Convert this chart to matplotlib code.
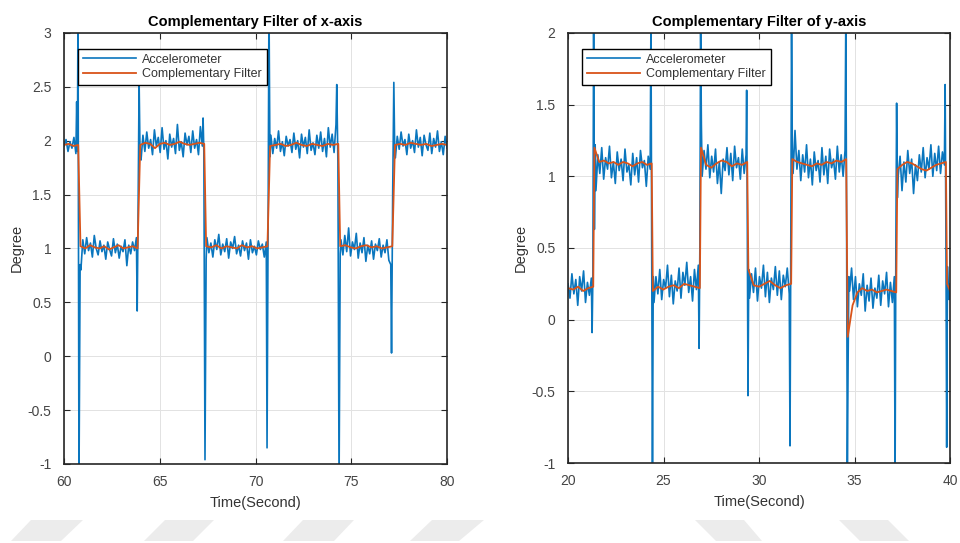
"""Complementary filter vs accelerometer, x- and y-axis."""

import numpy as np
import matplotlib
matplotlib.use("Agg")
import matplotlib.pyplot as plt
from matplotlib.patches import Polygon
from matplotlib.ticker import FuncFormatter

plt.rcParams['font.family'] = ['Liberation Sans', 'DejaVu Sans']
plt.rcParams['axes.unicode_minus'] = False

BLUE = "#0a76be"
ORANGE = "#D95319"
DARK = "#262626"

# ---------------- x-axis (60..80 s) ----------------
# accelerometer: plateaus (start, end, values) + transition spikes
xa_start = [60.00, 60.88, 64.02, 67.46, 70.80, 74.46, 77.30]
xa_end = [60.62, 63.78, 67.22, 70.56, 74.20, 77.06, 80.00]
xa_vals = [
    [1.95, 2.01, 1.90, 1.99, 1.93, 2.03, 1.88],
    [0.80, 1.08, 0.95, 1.10, 0.98, 1.05, 0.92, 1.12, 1.00, 0.94, 1.07, 0.97, 1.03, 0.90, 1.06,
     0.99, 0.93, 1.09, 0.96, 1.04, 0.91, 1.02, 0.97, 1.08, 0.84, 1.03, 0.95, 1.06, 0.98, 1.10],
    [1.82, 2.05, 1.90, 2.08, 1.93, 2.01, 1.87, 2.10, 1.95, 2.03, 1.89, 2.12, 1.92, 2.00, 1.83,
     2.06, 1.94, 2.02, 1.88, 2.15, 1.91, 1.99, 1.85, 2.07, 1.96, 2.04, 1.89, 2.09, 1.93, 2.01,
     1.87, 2.13, 1.95],
    [1.10, 0.96, 1.05, 0.92, 1.08, 0.99, 1.13, 0.94, 1.04, 0.97, 1.09, 0.91, 1.06, 1.00, 1.11,
     0.95, 1.03, 0.93, 1.07, 0.98, 1.05, 0.90, 1.08, 0.96, 1.02, 0.94, 1.07, 0.99, 1.04, 0.92,
     1.06],
    [2.05, 1.88, 2.02, 1.93, 2.09, 1.90, 1.99, 1.86, 2.04, 1.95, 2.01, 1.89, 2.07, 1.92, 2.00,
     1.84, 2.06, 1.94, 2.03, 1.88, 2.10, 1.91, 1.98, 1.87, 2.05, 1.93, 2.08, 1.90, 2.02, 1.85,
     2.12, 1.94, 2.06, 1.89, 2.15],
    [1.08, 0.94, 1.12, 0.97, 1.19, 0.93, 1.06, 0.99, 1.14, 0.91, 1.05, 0.96, 1.10, 0.88, 1.03,
     0.95, 1.07, 0.90, 1.04, 0.98, 1.09, 0.92, 1.03, 0.96, 1.08, 0.89, 0.85],
    [1.84, 2.04, 1.92, 2.08, 1.95, 2.01, 1.87, 2.06, 1.93, 2.00, 1.89, 2.10, 1.94, 2.03, 1.86,
     2.05, 1.96, 1.91, 2.07, 1.88, 2.02, 1.94, 2.09, 1.90, 1.99, 1.87, 2.04, 1.93],
]
xa_spike_t = [60.66, 60.70, 60.73, 60.78, 60.84, 63.82, 63.86, 63.92, 63.97,
              67.26, 67.30, 67.36, 67.42, 70.60, 70.66, 70.70, 70.75,
              74.24, 74.30, 74.36, 74.42, 77.10, 77.16, 77.22, 77.27]
xa_spike_y = [2.36, 1.90, 3.30, -1.20, 0.85, 0.42, 1.20, 2.55, 1.85,
              2.21, 1.90, -0.96, 0.90, -0.85, 1.40, 3.30, 1.85,
              2.52, 1.80, -1.20, 0.95, 0.03, 1.50, 2.54, 1.85]

# complementary filter
xf_start = [60.00, 60.86, 63.98, 67.42, 70.76, 74.42, 77.28]
xf_end = [60.74, 63.84, 67.32, 70.62, 74.32, 77.14, 80.00]
xf_vals = [
    [1.96, 1.97, 1.95, 1.96],
    [1.02, 1.00, 1.03, 1.01, 1.00, 1.02, 0.99, 1.01, 1.03, 1.00, 1.01, 1.02, 1.00],
    [1.96, 1.98, 1.97, 1.93, 1.97, 1.98, 1.96, 1.97, 1.99, 1.97, 1.96, 1.97, 1.98, 1.97],
    [1.02, 1.01, 1.03, 1.00, 1.02, 1.01, 1.00, 1.03, 1.01, 1.02, 1.00, 1.01, 1.02],
    [1.95, 1.96, 1.97, 1.95, 1.96, 1.98, 1.96, 1.95, 1.97, 1.96, 1.95, 1.97, 1.96, 1.97],
    [1.02, 1.03, 1.01, 1.00, 1.02, 1.03, 1.01, 1.02, 1.00, 1.01, 1.02],
    [1.96, 1.97, 1.96, 1.98, 1.97, 1.96, 1.97, 1.95, 1.96, 1.97, 1.96],
]

# ---------------- y-axis (20..40 s) ----------------
ya_start = [20.00, 21.46, 24.50, 27.02, 29.50, 31.78, 34.74, 37.28, 39.90]
ya_end = [21.22, 24.30, 26.82, 29.32, 31.58, 34.50, 37.08, 39.70, 40.00]
ya_vals = [
    [0.25, 0.15, 0.32, 0.18, 0.28, 0.10, 0.30, 0.20, 0.34, 0.12, 0.26, 0.17, 0.29],
    [0.90, 1.15, 1.02, 1.20, 0.98, 1.13, 1.05, 1.21, 0.99, 1.10, 0.95, 1.17, 1.04, 1.12, 0.97,
     1.19, 1.03, 1.08, 0.94, 1.16, 1.01, 1.13, 0.96, 1.18, 1.06, 1.11, 0.93, 1.14, 1.05],
    [0.12, 0.30, 0.18, 0.35, 0.14, 0.28, 0.22, 0.38, 0.16, 0.31, 0.11, 0.27, 0.20, 0.36, 0.15,
     0.33, 0.24, 0.40, 0.19, 0.30, 0.13, 0.35, 0.21, 0.38],
    [1.00, 1.18, 1.05, 1.22, 0.99, 1.14, 1.03, 1.19, 0.95, 1.10, 0.88, 1.12, 1.04, 1.20, 1.01,
     1.16, 0.97, 1.21, 1.06, 1.13, 0.98, 1.19, 1.02, 1.15],
    [0.15, 0.32, 0.19, 0.36, 0.13, 0.30, 0.22, 0.38, 0.16, 0.33, 0.12, 0.29, 0.21, 0.37, 0.17,
     0.34, 0.14, 0.31, 0.23, 0.36, 0.18],
    [1.02, 1.32, 1.05, 1.18, 0.97, 1.15, 1.03, 1.22, 0.99, 1.12, 0.94, 1.17, 1.04, 1.11, 0.96,
     1.20, 1.01, 1.14, 0.95, 1.19, 1.06, 1.12, 0.98, 1.21, 1.03, 1.15, 1.00, 1.18],
    [0.20, 0.36, 0.14, 0.30, 0.09, 0.25, 0.17, 0.32, 0.06, 0.24, 0.13, 0.29, 0.08, 0.22, 0.15,
     0.31, 0.10, 0.27, 0.18, 0.33, 0.09, 0.26, 0.12, 0.30],
    [1.00, 1.14, 0.90, 1.10, 0.96, 1.18, 1.02, 1.12, 0.88, 1.08, 0.97, 1.15, 1.03, 1.20, 0.99,
     1.13, 1.05, 1.22, 1.00, 1.16, 1.04, 1.21, 1.02, 1.17, 1.08],
    [0.22, 0.14, 0.25],
]
ya_spike_t = [21.26, 21.30, 21.34, 21.38, 21.42, 24.34, 24.38, 24.42, 24.46,
              26.86, 26.90, 26.94, 26.98, 29.35, 29.38, 29.42, 29.46,
              31.62, 31.66, 31.70, 31.74, 34.54, 34.58, 34.62, 34.66, 34.70,
              37.12, 37.16, 37.20, 37.24, 39.74, 39.78, 39.82, 39.86]
ya_spike_y = [-0.09, 0.30, 2.10, 0.63, 1.22, 2.10, 0.43, -1.10, 0.30,
              -0.20, 0.50, 2.10, 1.36, 1.60, 0.80, -0.53, 0.35,
              -0.88, 0.50, 2.10, 1.20, 2.10, 0.75, -1.10, -0.30, 0.30,
              -1.10, 0.50, 1.51, 0.85, 1.64, 0.60, -0.89, 0.37]

yf_start = [20.00, 21.38, 24.44, 26.96, 29.44, 31.74, 34.64, 37.24, 39.84]
yf_end = [21.32, 24.38, 26.90, 29.38, 31.68, 34.56, 37.18, 39.78, 40.00]
yf_vals = [
    [0.22, 0.21, 0.23, 0.20, 0.22, 0.23],
    [1.20, 1.10, 1.11, 1.09, 1.10, 1.08, 1.10, 1.09, 1.07, 1.09, 1.10, 1.08, 1.09],
    [0.20, 0.23, 0.21, 0.23, 0.24, 0.22, 0.25, 0.24, 0.23, 0.22],
    [1.20, 1.08, 1.06, 1.09, 1.11, 1.10, 1.07, 1.09, 1.08, 1.10],
    [0.35, 0.24, 0.23, 0.25, 0.27, 0.24, 0.22, 0.24, 0.25],
    [1.12, 1.10, 1.09, 1.08, 1.07, 1.09, 1.08, 1.10, 1.09, 1.11, 1.10, 1.12],
    [-0.12, 0.10, 0.19, 0.22, 0.20, 0.21, 0.19, 0.20, 0.21, 0.20, 0.19],
    [1.05, 1.08, 1.10, 1.09, 1.07, 1.05, 1.04, 1.06, 1.08, 1.09, 1.10],
    [0.25, 0.20],
]


def build(starts, ends, vals, spike_t=(), spike_y=()):
    """Join plateau segments and spike samples into one time-ordered series."""
    t, y = [], []
    for s, e, v in zip(starts, ends, vals):
        t.extend(np.linspace(s, e, len(v)))
        y.extend(v)
    t.extend(spike_t)
    y.extend(spike_y)
    order = np.argsort(t)
    return np.array(t)[order], np.array(y)[order]


def style_axes(ax, xlim, ylim, yticks, title):
    ax.set_xlim(*xlim)
    ax.set_ylim(*ylim)
    ax.set_yticks(yticks)
    ax.set_xticks(np.arange(xlim[0], xlim[1] + 1, 5))
    ax.yaxis.set_major_formatter(FuncFormatter(lambda v, p: "%g" % v))
    ax.grid(True, color="#e2e2e2", linewidth=0.7)
    ax.set_axisbelow(True)
    ax.tick_params(direction="in", top=True, right=True, length=4,
                   colors=DARK, labelsize=10, labelcolor="#444444")
    ax.tick_params(axis="x", pad=8)
    ax.tick_params(axis="y", pad=9)
    for sp in ax.spines.values():
        sp.set_color(DARK)
        sp.set_linewidth(1.2)
    ax.set_title(title, fontsize=10.5, fontweight="bold", color="black", pad=5)
    ax.set_xlabel("Time(Second)", fontsize=10.5, color="#333333", labelpad=5)
    ax.set_ylabel("Degree", fontsize=10.5, color="#333333", labelpad=3)
    leg = ax.legend(loc="upper left", bbox_to_anchor=(0.037, 0.963),
                    borderaxespad=0, fontsize=9, handlelength=4.2,
                    fancybox=False, framealpha=1, edgecolor="black",
                    borderpad=0.4, labelspacing=0.2, handletextpad=0.5)
    leg.get_frame().set_linewidth(1.0)
    for txt in leg.get_texts():
        txt.set_color("#333333")


fig = plt.figure(figsize=(9.6, 5.43), dpi=100)
ax1 = fig.add_axes([0.0667, 0.1455, 0.399, 0.794])
ax2 = fig.add_axes([0.5917, 0.1473, 0.398, 0.792])

t, y = build(xa_start, xa_end, xa_vals, xa_spike_t, xa_spike_y)
ax1.plot(t, y, color=BLUE, linewidth=1.2, label="Accelerometer")
t, y = build(xf_start, xf_end, xf_vals)
ax1.plot(t, y, color=ORANGE, linewidth=1.3, label="Complementary Filter")
style_axes(ax1, (60, 80), (-1, 3), np.arange(-1, 3.01, 0.5),
           "Complementary Filter of x-axis")

t, y = build(ya_start, ya_end, ya_vals, ya_spike_t, ya_spike_y)
ax2.plot(t, y, color=BLUE, linewidth=1.2, label="Accelerometer")
t, y = build(yf_start, yf_end, yf_vals)
ax2.plot(t, y, color=ORANGE, linewidth=1.3, label="Complementary Filter")
style_axes(ax2, (20, 40), (-1, 2), np.arange(-1, 2.01, 0.5),
           "Complementary Filter of y-axis")

# faint watermark stripes along the bottom edge (pixel coords of the page)
W, H = 960.0, 543.0
stripes = [
    [(11, 541), (61, 541), (83, 520), (31, 520)],
    [(144, 541), (193, 541), (214, 520), (165, 520)],
    [(283, 541), (334, 541), (354, 520), (303, 520)],
    [(410, 541), (459, 541), (484, 520), (432, 520)],
    [(716, 541), (762, 541), (744, 520), (695, 520)],
    [(860, 541), (909, 541), (888, 520), (839, 520)],
]
for pts in stripes:
    fig.patches.append(Polygon([(x / W, 1 - yy / H) for x, yy in pts], closed=True,
                               transform=fig.transFigure, facecolor="#ececec",
                               edgecolor="none", zorder=0))

plt.savefig("out.png", dpi=100)
